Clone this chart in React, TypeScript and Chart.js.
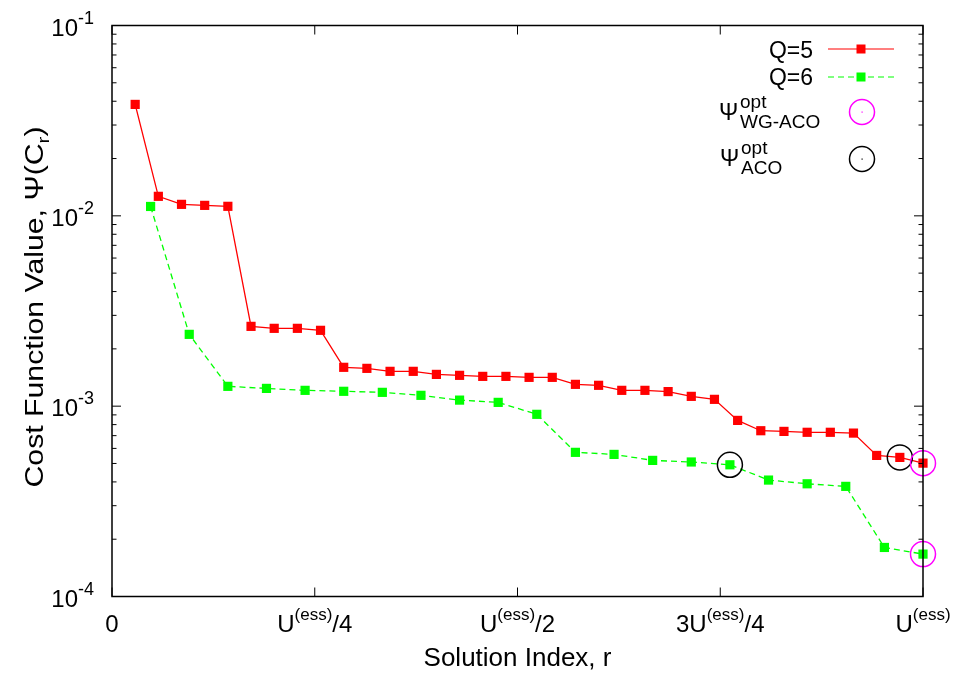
import React, { useEffect, useRef } from 'react';
import { Chart, registerables } from 'chart.js';

Chart.register(...registerables);

// Cost function values per solution index (r = 1..U(ess))
const q5Values = [
  0.0385, 0.01266, 0.01149, 0.01135, 0.01122, 0.002626, 0.002564, 0.002564, 0.002503,
  0.0016, 0.00158, 0.001524, 0.001524, 0.001469, 0.001452, 0.001434, 0.001434, 0.001417,
  0.001417, 0.001302, 0.001287, 0.001211, 0.001211, 0.001193, 0.001126, 0.001086,
  0.000842, 0.000743, 0.000737, 0.000729, 0.000729, 0.000722, 0.000551, 0.000538, 0.000502,
];
const q6Values = [
  0.0112, 0.002384, 0.001271, 0.00124, 0.001211, 0.001197, 0.001182, 0.00114, 0.001076,
  0.001047, 0.000906, 0.000572, 0.000558, 0.000519, 0.000509, 0.000492, 0.000409,
  0.000391, 0.000379, 0.000181, 0.000167,
];

// 1-based solution indices of the optima, [Q=5, Q=6]
const acoOptIndices = [34, 16];
const wgAcoOptIndices = [35, 21];

// Tick labels
const xTickFractions = [0, 0.25, 0.5, 0.75, 1];
const xTickMain = ['0', 'U', 'U', '3U', 'U'];
const xTickSup = ['', '(ess)', '(ess)', '(ess)', '(ess)'];
const xTickTail = ['', '/4', '/2', '/4', ''];
const yDecades = [-4, -3, -2, -1];

const FONT_FAMILY = '"Liberation Sans", Arial, Helvetica, sans-serif';
const font = (s: number) => `${s}px ${FONT_FAMILY}`;

type Part = { t: string; size: number; dy: number };

function drawRich(ctx: CanvasRenderingContext2D, parts: Part[], x: number, y: number, align: 'left' | 'center' | 'right') {
  const widths = parts.map((p) => {
    ctx.font = font(p.size);
    return ctx.measureText(p.t).width;
  });
  const total = widths.reduce((a, b) => a + b, 0);
  let cur = align === 'left' ? x : align === 'center' ? x - total / 2 : x - total;
  ctx.textAlign = 'left';
  ctx.textBaseline = 'alphabetic';
  parts.forEach((p, i) => {
    ctx.font = font(p.size);
    ctx.fillText(p.t, cur, y + p.dy);
    cur += widths[i];
  });
}

const decorPlugin = {
  id: 'gnuplotDecor',
  afterDraw(chart: any) {
    const { ctx, chartArea: a, scales } = chart;
    const xs = scales.x;
    const ys = scales.y;
    ctx.save();
    ctx.fillStyle = '#000';
    ctx.strokeStyle = '#000';

    // Frame
    ctx.lineWidth = 1.5;
    ctx.strokeRect(a.left, a.top, a.right - a.left, a.bottom - a.top);

    // Y ticks (major + minor, both sides, inward)
    ctx.lineWidth = 1;
    ctx.beginPath();
    yDecades.forEach((e, idx) => {
      const yp = ys.getPixelForValue(Math.pow(10, e));
      ctx.moveTo(a.left, yp); ctx.lineTo(a.left + 9, yp);
      ctx.moveTo(a.right, yp); ctx.lineTo(a.right - 9, yp);
      if (idx < yDecades.length - 1) {
        for (let m = 2; m <= 9; m++) {
          const ym = ys.getPixelForValue(m * Math.pow(10, e));
          ctx.moveTo(a.left, ym); ctx.lineTo(a.left + 4.5, ym);
          ctx.moveTo(a.right, ym); ctx.lineTo(a.right - 4.5, ym);
        }
      }
    });
    // X ticks (bottom + top, inward)
    xTickFractions.forEach((f) => {
      const xp = xs.getPixelForValue(f);
      ctx.moveTo(xp, a.bottom); ctx.lineTo(xp, a.bottom - 9);
      ctx.moveTo(xp, a.top); ctx.lineTo(xp, a.top + 9);
    });
    ctx.stroke();

    // Y tick labels
    yDecades.forEach((e) => {
      const yp = ys.getPixelForValue(Math.pow(10, e));
      drawRich(ctx, [
        { t: '10', size: 24, dy: 0 },
        { t: String(e), size: 18, dy: -12 },
      ], 94, yp + 10, 'right');
    });

    // X tick labels
    xTickFractions.forEach((f, i) => {
      const xp = xs.getPixelForValue(f);
      const parts: Part[] = [{ t: xTickMain[i], size: 24, dy: 0 }];
      if (xTickSup[i]) parts.push({ t: xTickSup[i], size: 17, dy: -12 });
      if (xTickTail[i]) parts.push({ t: xTickTail[i], size: 24, dy: 0 });
      drawRich(ctx, parts, xp, 632, 'center');
    });

    // Axis titles
    drawRich(ctx, [{ t: 'Solution Index, r', size: 26, dy: 0 }], (a.left + a.right) / 2, 666, 'center');
    ctx.save();
    ctx.translate(43, 307);
    ctx.rotate(-Math.PI / 2);
    ctx.scale(1.21, 1);
    drawRich(ctx, [
      { t: 'Cost Function Value, \u03A8(C', size: 25, dy: 0 },
      { t: 'r', size: 17, dy: 6 },
      { t: ')', size: 25, dy: 0 },
    ], 0, 0, 'center');
    ctx.restore();

    // Legend
    drawRich(ctx, [{ t: 'Q=5', size: 23, dy: 0 }], 813, 57.5, 'right');
    drawRich(ctx, [{ t: 'Q=6', size: 23, dy: 0 }], 813, 85, 'right');

    ctx.lineWidth = 1.2;
    ctx.strokeStyle = '#ff0000';
    ctx.beginPath(); ctx.moveTo(828, 49); ctx.lineTo(894, 49); ctx.stroke();
    ctx.fillStyle = '#ff0000';
    ctx.fillRect(861 - 4.5, 49 - 4.5, 9, 9);

    ctx.strokeStyle = '#00ff00';
    ctx.setLineDash([6, 4]);
    ctx.beginPath(); ctx.moveTo(828, 77); ctx.lineTo(894, 77); ctx.stroke();
    ctx.setLineDash([]);
    ctx.fillStyle = '#00ff00';
    ctx.fillRect(861 - 4.5, 77 - 4.5, 9, 9);

    ctx.fillStyle = '#000';
    ctx.font = font(23);
    ctx.textAlign = 'left';
    ctx.fillText('\u03A8', 719, 120);
    ctx.font = font(19);
    ctx.fillText('opt', 740, 108);
    ctx.fillText('WG-ACO', 740, 128);
    ctx.font = font(23);
    ctx.fillText('\u03A8', 720, 166);
    ctx.font = font(19);
    ctx.fillText('opt', 741, 154);
    ctx.fillText('ACO', 741, 174);

    ctx.lineWidth = 1.5;
    ctx.strokeStyle = '#ff00ff';
    ctx.beginPath(); ctx.arc(862, 112, 12.5, 0, Math.PI * 2); ctx.stroke();
    ctx.fillStyle = '#ff00ff';
    ctx.fillRect(861.5, 111.5, 1.2, 1.2);
    ctx.strokeStyle = '#000';
    ctx.beginPath(); ctx.arc(862, 159, 12.5, 0, Math.PI * 2); ctx.stroke();
    ctx.fillStyle = '#000';
    ctx.fillRect(861.5, 158.5, 1.2, 1.2);

    ctx.restore();
  },
};

export default function App() {
  const ref = useRef<HTMLCanvasElement>(null);

  useEffect(() => {
    const canvas = ref.current;
    if (!canvas) return;
    const series = [q5Values, q6Values];
    const toPoints = (vals: number[]) => vals.map((v, i) => ({ x: (i + 1) / vals.length, y: v }));
    const optPoints = (indices: number[]) =>
      indices.map((r, s) => ({ x: r / series[s].length, y: series[s][r - 1] }));

    const chart = new Chart(canvas, {
      type: 'line',
      data: {
        datasets: [
          {
            label: 'Q=5',
            data: toPoints(q5Values),
            borderColor: '#ff0000',
            borderWidth: 1.3,
            pointStyle: 'rect',
            pointRadius: 6.5,
            pointBorderWidth: 0,
            pointBackgroundColor: '#ff0000',
            pointBorderColor: '#ff0000',
            tension: 0,
            clip: false,
            order: 2,
          } as any,
          {
            label: 'Q=6',
            data: toPoints(q6Values),
            borderColor: '#00ff00',
            borderWidth: 1.3,
            borderDash: [6, 4],
            pointStyle: 'rect',
            pointRadius: 6.5,
            pointBorderWidth: 0,
            pointBackgroundColor: '#00ff00',
            pointBorderColor: '#00ff00',
            tension: 0,
            clip: false,
            order: 1,
          } as any,
          {
            label: 'WG-ACO opt',
            data: optPoints(wgAcoOptIndices),
            showLine: false,
            pointStyle: 'circle',
            pointRadius: 12.5,
            pointBorderWidth: 1.5,
            pointBorderColor: '#ff00ff',
            pointBackgroundColor: 'rgba(0,0,0,0)',
            clip: false,
            order: 0,
          } as any,
          {
            label: 'ACO opt',
            data: optPoints(acoOptIndices),
            showLine: false,
            pointStyle: 'circle',
            pointRadius: 12.5,
            pointBorderWidth: 1.5,
            pointBorderColor: '#000000',
            pointBackgroundColor: 'rgba(0,0,0,0)',
            clip: false,
            order: 0,
          } as any,
        ],
      },
      options: {
        animation: false,
        responsive: false,
        events: [],
        layout: { padding: { left: 112, right: 35, top: 25.5, bottom: 76.5 } },
        scales: {
          x: { type: 'linear', min: 0, max: 1, display: false },
          y: { type: 'logarithmic', min: 1e-4, max: 1e-1, display: false },
        },
        plugins: { legend: { display: false }, tooltip: { enabled: false } },
      },
      plugins: [decorPlugin],
    });
    return () => chart.destroy();
  }, []);

  return (
    <div style={{ position: 'absolute', left: 0, top: 0, width: 958, height: 673, background: '#fff' }}>
      <canvas ref={ref} width={958} height={673} style={{ display: 'block' }} />
    </div>
  );
}
